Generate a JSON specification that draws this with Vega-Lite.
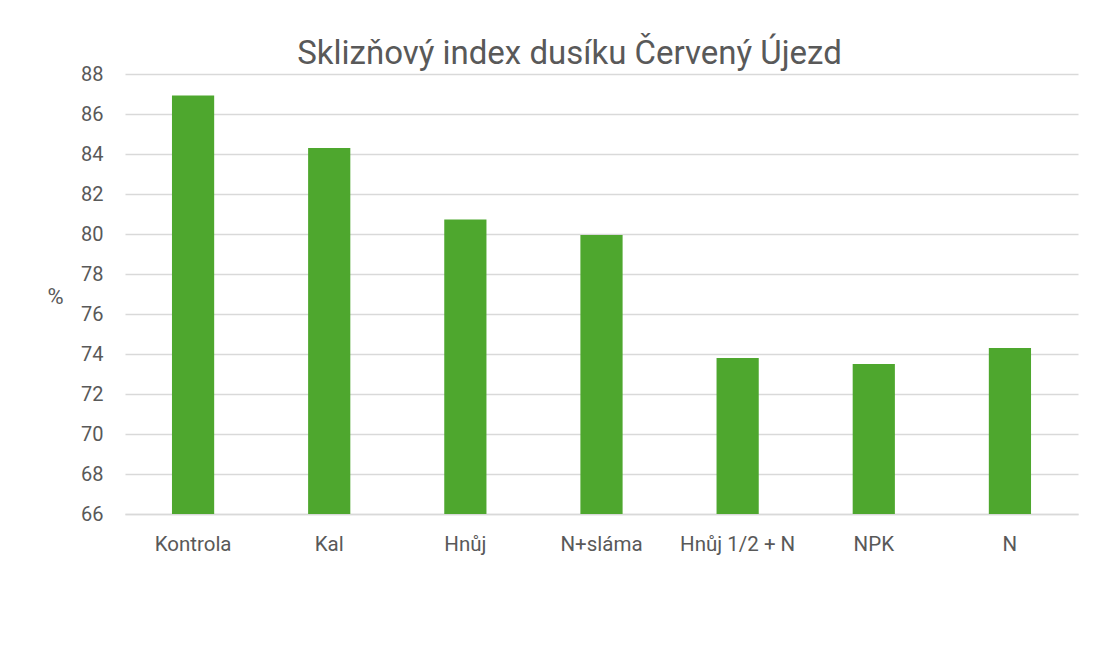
{
  "$schema": "https://vega.github.io/schema/vega-lite/v6.json",
  "autosize": "none",
  "width": 953,
  "height": 440,
  "padding": {"left": 125, "top": 74, "right": 39, "bottom": 145},
  "background": "white",
  "title": {
    "text": "Sklizňový index dusíku Červený Újezd",
    "font": "Roboto",
    "fontSize": 33,
    "fontWeight": "normal",
    "color": "#595959",
    "anchor": "middle",
    "dx": -32,
    "baseline": "alphabetic",
    "offset": -33
  },
  "data": {
    "values": [
      {"varianta": "Kontrola", "hodnota": 86.92},
      {"varianta": "Kal", "hodnota": 84.3},
      {"varianta": "Hnůj", "hodnota": 80.72},
      {"varianta": "N+sláma", "hodnota": 79.95},
      {"varianta": "Hnůj 1/2 + N", "hodnota": 73.8},
      {"varianta": "NPK", "hodnota": 73.5},
      {"varianta": "N", "hodnota": 74.3}
    ]
  },
  "mark": {"type": "bar", "color": "#4EA72E", "clip": true},
  "encoding": {
    "x": {
      "field": "varianta",
      "type": "nominal",
      "sort": null,
      "scale": {"paddingInner": 0.69, "paddingOuter": 0.345},
      "axis": {
        "title": null,
        "labelAngle": 0,
        "labelFont": "Roboto",
        "labelFontSize": 20.5,
        "labelColor": "#595959",
        "labelPadding": 20,
        "labelOverlap": false,
        "ticks": false,
        "domain": true,
        "domainColor": "#d9d9d9",
        "domainWidth": 1.5
      }
    },
    "y": {
      "field": "hodnota",
      "type": "quantitative",
      "scale": {"domain": [66, 88], "nice": false, "zero": false},
      "axis": {
        "title": "%",
        "titleAngle": 0,
        "titleFont": "Roboto",
        "titleFontSize": 22,
        "titleFontWeight": "normal",
        "titleColor": "#595959",
        "titleX": -70,
        "titleY": 222,
        "titleAlign": "center",
        "titleBaseline": "middle",
        "values": [66, 68, 70, 72, 74, 76, 78, 80, 82, 84, 86, 88],
        "labelFont": "Roboto",
        "labelFontSize": 20,
        "labelColor": "#595959",
        "labelPadding": 22,
        "ticks": false,
        "domain": false,
        "grid": true,
        "gridColor": "#d9d9d9",
        "gridWidth": 1.5
      }
    },
    "y2": {"datum": 66}
  },
  "config": {"view": {"stroke": null}}
}
